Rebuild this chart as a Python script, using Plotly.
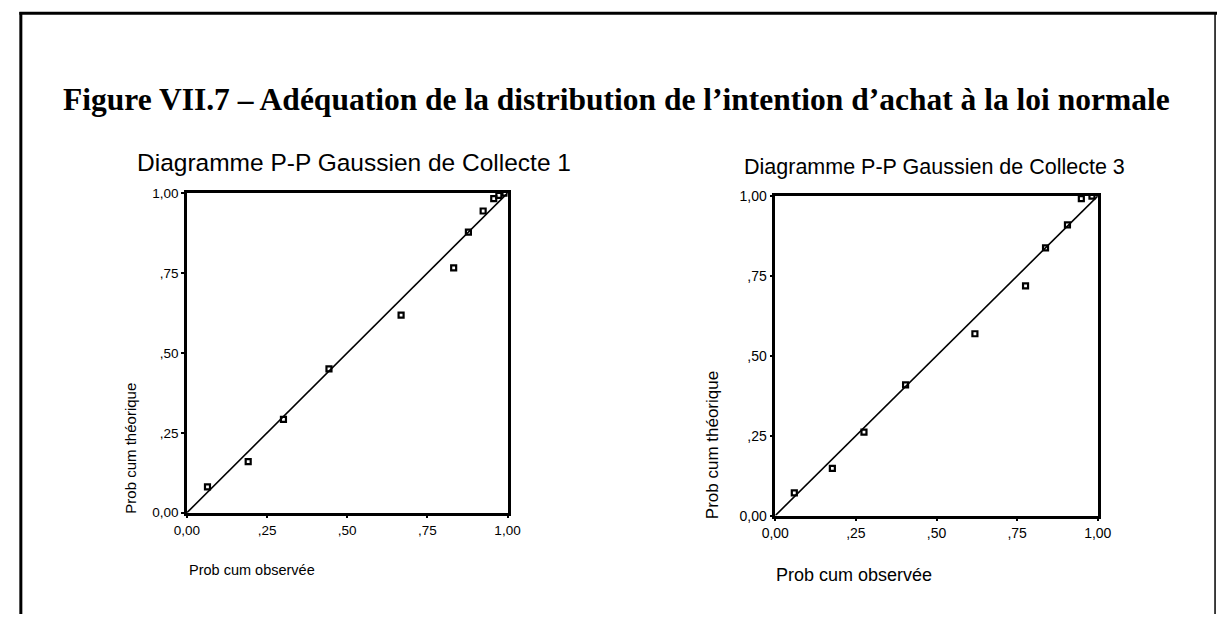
import plotly.graph_objects as go

W, H = 1231, 622

# Collecte 1
obs1 = [0.064, 0.191, 0.301, 0.443, 0.668, 0.832, 0.878, 0.924, 0.957, 0.973, 0.992]
theo1 = [0.081, 0.160, 0.292, 0.450, 0.618, 0.766, 0.878, 0.944, 0.983, 0.993, 1.000]
# Collecte 3
obs3 = [0.059, 0.177, 0.275, 0.404, 0.619, 0.776, 0.838, 0.906, 0.949, 0.982]
theo3 = [0.071, 0.148, 0.261, 0.409, 0.569, 0.719, 0.838, 0.910, 0.992, 1.000]

tick_vals = [0, 0.25, 0.5, 0.75, 1.0]
tick_text = ["0,00", ",25", ",50", ",75", "1,00"]
diag = [0, 1]

main_title = "Figure VII.7 – Adéquation de la distribution de l’intention d’achat à la loi normale"
title1 = "Diagramme P-P Gaussien de Collecte 1"
title3 = "Diagramme P-P Gaussien de Collecte 3"
xlab = "Prob cum observée"
ylab = "Prob cum théorique"

def px_x(p):
    return p / W

def px_y(p):
    return 1 - p / H

fig = go.Figure()

panels = [
    dict(obs=obs1, theo=theo1, xa="x", ya="y"),
    dict(obs=obs3, theo=theo3, xa="x2", ya="y2"),
]

for p in panels:
    fig.add_trace(go.Scatter(x=diag, y=diag, mode="lines", line=dict(color="black", width=1.6),
                             xaxis=p["xa"], yaxis=p["ya"], showlegend=False, hoverinfo="skip"))
    fig.add_trace(go.Scatter(x=p["obs"], y=p["theo"], mode="markers",
                             marker=dict(symbol="square-open", size=5, color="black", line=dict(width=2.2)),
                             xaxis=p["xa"], yaxis=p["ya"], showlegend=False))

def axis_common(size):
    return dict(range=[0, 1], tickvals=tick_vals, ticktext=tick_text, showgrid=False, zeroline=False,
                showline=True, linecolor="black", linewidth=2.5, mirror=True, ticks="outside",
                ticklen=3, tickwidth=2, tickcolor="black",
                tickfont=dict(family="Liberation Sans, Arial", size=size, color="black"),
                fixedrange=True)

fig.update_layout(
    width=W, height=H, autosize=False, margin=dict(l=0, r=0, t=0, b=0, pad=0),
    paper_bgcolor="white", plot_bgcolor="white",
    xaxis=dict(domain=[px_x(177), px_x(505)], anchor="y", **axis_common(13.5)),
    yaxis=dict(domain=[px_y(518), px_y(190)], anchor="x", **axis_common(13.5)),
    xaxis2=dict(domain=[px_x(779), px_x(1109)], anchor="y2", **axis_common(14)),
    yaxis2=dict(domain=[px_y(521), px_y(193)], anchor="x2", **axis_common(14)),
)

ann = []
ann.append(dict(text="<b>" + main_title + "</b>", x=px_x(617), y=px_y(94), xref="paper", yref="paper",
                showarrow=False, xanchor="center", yanchor="middle",
                font=dict(family="Liberation Serif, Times New Roman", size=31.5, color="black")))
ann.append(dict(text=title1, x=px_x(348), y=px_y(158.5), xref="paper", yref="paper", showarrow=False,
                xanchor="center", yanchor="middle",
                font=dict(family="Liberation Sans, Arial", size=24.5, color="black")))
ann.append(dict(text=title3, x=px_x(942), y=px_y(163.5), xref="paper", yref="paper", showarrow=False,
                xanchor="center", yanchor="middle",
                font=dict(family="Liberation Sans, Arial", size=21.5, color="black")))
ann.append(dict(text=xlab, x=px_x(177), y=px_y(577), xref="paper", yref="paper", showarrow=False,
                xanchor="left", yanchor="middle",
                font=dict(family="Liberation Sans, Arial", size=14.5, color="black")))
ann.append(dict(text=xlab, x=px_x(778), y=px_y(582), xref="paper", yref="paper", showarrow=False,
                xanchor="left", yanchor="middle",
                font=dict(family="Liberation Sans, Arial", size=18, color="black")))
ann.append(dict(text=ylab, x=px_x(119), y=px_y(452), xref="paper", yref="paper", showarrow=False,
                xanchor="center", yanchor="middle", textangle=-90,
                font=dict(family="Liberation Sans, Arial", size=15, color="black")))
ann.append(dict(text=ylab, x=px_x(715), y=px_y(449), xref="paper", yref="paper", showarrow=False,
                xanchor="center", yanchor="middle", textangle=-90,
                font=dict(family="Liberation Sans, Arial", size=17, color="black")))
fig.update_layout(annotations=ann)

fig.update_layout(shapes=[
    dict(type="line", xref="paper", yref="paper", x0=px_x(7), x1=px_x(7), y0=px_y(4), y1=0,
         line=dict(color="black", width=3)),
    dict(type="line", xref="paper", yref="paper", x0=px_x(5.5), x1=1, y0=px_y(5.5), y1=px_y(5.5),
         line=dict(color="black", width=3)),
    dict(type="line", xref="paper", yref="paper", x0=px_x(1229), x1=px_x(1229), y0=px_y(5), y1=0,
         line=dict(color="black", width=1.5)),
])

fig.write_html("out.html", config={"displayModeBar": False},
               post_script="document.body.style.margin='0';document.body.style.overflow='hidden';")
